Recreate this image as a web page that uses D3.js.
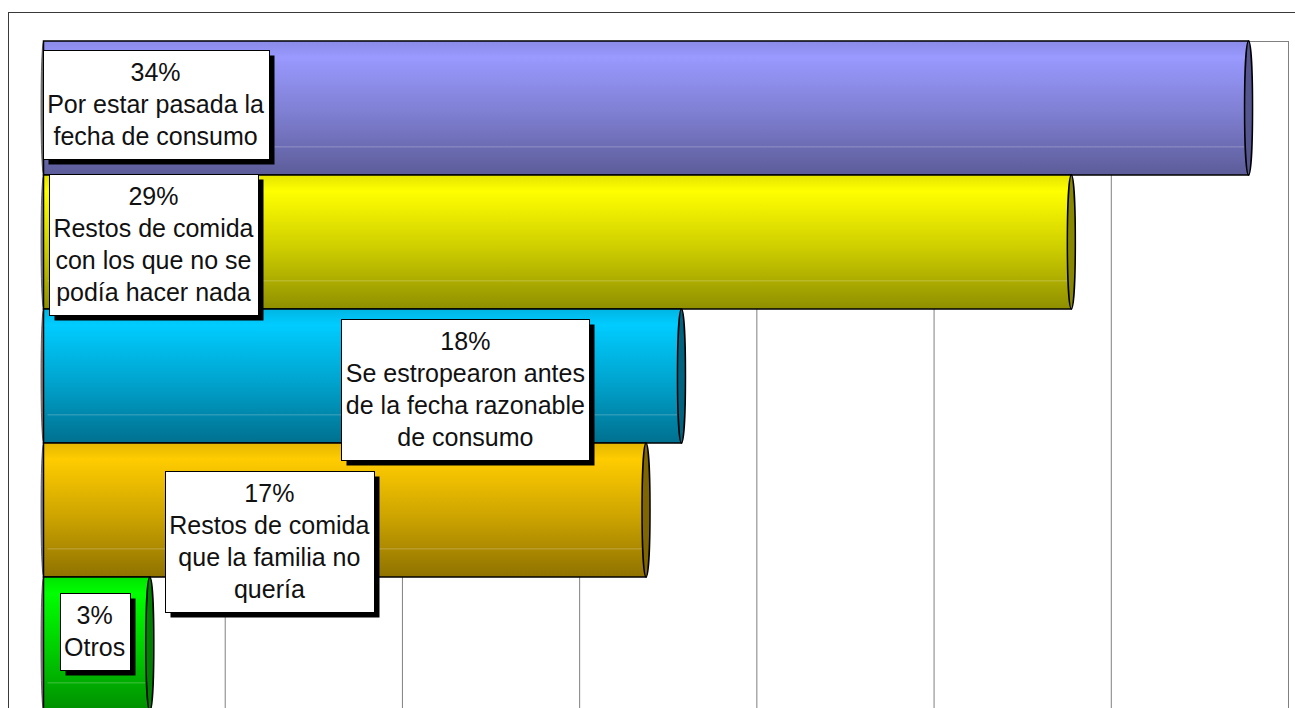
<!DOCTYPE html>
<html>
<head>
<meta charset="utf-8">
<script src="https://cdn.jsdelivr.net/npm/d3@7"></script>
<style>
  html, body { margin: 0; padding: 0; background: #fff; }
  svg { display: block; }
  text { font-family: "Liberation Sans", Arial, sans-serif; }
</style>
</head>
<body>
<svg id="chart" width="1295" height="708"></svg>
<script>
// Motivos por los que se tiran alimentos (porcentaje)
const categories = [
  "Por estar pasada la fecha de consumo",
  "Restos de comida con los que no se podía hacer nada",
  "Se estropearon antes de la fecha razonable de consumo",
  "Restos de comida que la familia no quería",
  "Otros"
];
const values = [34, 29, 18, 17, 3];
const labelLines = [
  ["Por estar pasada la", "fecha de consumo"],
  ["Restos de comida", "con los que no se", "podía hacer nada"],
  ["Se estropearon antes", "de la fecha razonable", "de consumo"],
  ["Restos de comida", "que la familia no", "quería"],
  ["Otros"]
];
const gridTicks = [0, 5, 10, 15, 20, 25, 30, 35];

// Bar colours: light (upper) and dark (lower) tones of each cylinder
const lightColors = ["#9999ff", "#ffff00", "#00ccff", "#ffcc00", "#00ff00"];
const darkColors  = ["#5c5c99", "#8f8f00", "#00708f", "#8f7200", "#008f00"];
const capColors   = ["#55558f", "#888800", "#006480", "#806600", "#007f00"];

// Where each data label box sits: centre along the value axis, and vertical shift from band centre
const labelAt = [3.05, 2.99, 11.79, 6.26, 1.33];
const labelShift = [-4, 2, 13, 31.5, -13];

const svg = d3.select("#chart");
const plot = { left: 47.5, right: 1288, top: 41, bottom: 711 };
const capR = 4; // half-width of the cylinder end caps

const x = d3.scaleLinear().domain([0, 35]).range([plot.left, plot.right]);
const y = d3.scaleBand().domain(categories).range([plot.top, plot.bottom]).padding(0);

// Outer frame of the chart
svg.append("rect")
  .attr("x", 8.5).attr("y", 12.5)
  .attr("width", 1400).attr("height", 800)
  .attr("fill", "#fff").attr("stroke", "#3a3a3a").attr("stroke-width", 1);

// Vertical gridlines through the axis
const gridAxis = d3.axisBottom(x).tickValues(gridTicks).tickSize(-(plot.bottom - plot.top)).tickFormat("");
const g = svg.append("g")
  .attr("transform", `translate(0,${plot.bottom})`)
  .call(gridAxis);
g.select(".domain").remove();
g.selectAll(".tick line").attr("stroke", "#808080").attr("stroke-width", 1);

// Plot area top edge
svg.append("line")
  .attr("x1", plot.left).attr("x2", plot.right)
  .attr("y1", plot.top + 0.5).attr("y2", plot.top + 0.5)
  .attr("stroke", "#808080");

// Gradients for the cylinder shading
const defs = svg.append("defs");
values.forEach((v, i) => {
  const mix = d3.interpolateRgb(lightColors[i], darkColors[i]);
  const grad = defs.append("linearGradient")
    .attr("id", "grad" + i)
    .attr("x1", 0).attr("y1", 0).attr("x2", 0).attr("y2", 1);
  grad.append("stop").attr("offset", "0%").attr("stop-color", mix(0.25));
  grad.append("stop").attr("offset", "12%").attr("stop-color", lightColors[i]);
  grad.append("stop").attr("offset", "55%").attr("stop-color", mix(0.45));
  grad.append("stop").attr("offset", "100%").attr("stop-color", mix(1));
});

const bars = svg.append("g").selectAll("g.bar")
  .data(values)
  .join("g")
  .attr("class", "bar");

// Left end of the cylinder (outer half of the base ellipse)
bars.append("ellipse")
  .attr("cx", x(0) - capR)
  .attr("cy", (d, i) => y(categories[i]) + y.bandwidth() / 2)
  .attr("rx", 2.5)
  .attr("ry", y.bandwidth() / 2 - 1)
  .attr("fill", "#8a8a8a")
  .attr("stroke", "#444").attr("stroke-width", 0.75);

// Cylinder body
bars.append("rect")
  .attr("x", x(0) - capR)
  .attr("y", (d, i) => y(categories[i]))
  .attr("width", d => x(d) - x(0))
  .attr("height", y.bandwidth())
  .attr("fill", (d, i) => `url(#grad${i})`)
  .attr("stroke", "#000")
  .attr("stroke-width", 1.5);

// Faint highlight line on the lower part of the cylinder
bars.append("line")
  .attr("x1", x(0))
  .attr("x2", d => x(d) - 2 * capR)
  .attr("y1", (d, i) => y(categories[i]) + y.bandwidth() * 0.79)
  .attr("y2", (d, i) => y(categories[i]) + y.bandwidth() * 0.79)
  .attr("stroke", "#ffffff").attr("stroke-opacity", 0.25);

// Right end cap of the cylinder
bars.append("ellipse")
  .attr("cx", d => x(d) - capR)
  .attr("cy", (d, i) => y(categories[i]) + y.bandwidth() / 2)
  .attr("rx", capR)
  .attr("ry", y.bandwidth() / 2)
  .attr("fill", (d, i) => capColors[i])
  .attr("stroke", "#000")
  .attr("stroke-width", 1.5);

// Data labels: value and category in a boxed callout with drop shadow
const lineGap = 32;
const labels = svg.append("g").selectAll("g.label")
  .data(values)
  .join("g")
  .attr("class", "label");

labels.each(function (d, i) {
  const grp = d3.select(this);
  const lines = [d + "%"].concat(labelLines[i]);
  const cx = x(labelAt[i]);
  const cy = y(categories[i]) + y.bandwidth() / 2 + labelShift[i];
  const shadow = grp.append("rect").attr("fill", "#000");
  const box = grp.append("rect").attr("fill", "#fff").attr("stroke", "#000").attr("stroke-width", 1);
  const txt = grp.append("text")
    .attr("text-anchor", "middle")
    .attr("font-size", 25)
    .attr("fill", "#111");
  lines.forEach((ln, k) => {
    txt.append("tspan")
      .attr("x", cx)
      .attr("y", cy + (k - (lines.length - 1) / 2) * lineGap + 8.5)
      .text(ln);
  });
  let w = 0;
  txt.selectAll("tspan").each(function () { w = Math.max(w, this.getComputedTextLength()); });
  const bw = Math.round(w + 9);
  const bh = lines.length * lineGap + 13;
  const bx = Math.round(cx - bw / 2) + 0.5;
  const by = Math.round(cy - bh / 2) + 0.5;
  box.attr("x", bx).attr("y", by).attr("width", bw).attr("height", bh);
  shadow.attr("x", bx + 5).attr("y", by + 5).attr("width", bw).attr("height", bh);
});
</script>
</body>
</html>
